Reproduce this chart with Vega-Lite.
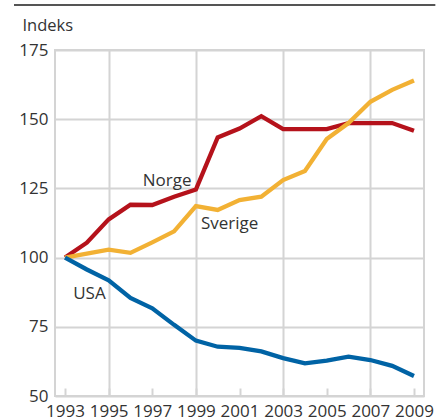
{
  "$schema": "https://vega.github.io/schema/vega-lite/v6.json",
  "autosize": "none",
  "width": 369,
  "height": 346,
  "padding": {"left": 55, "top": 50, "right": 12, "bottom": 24},
  "background": "white",
  "config": {
    "view": {"stroke": "#d4d4d4", "strokeWidth": 2},
    "font": "Open Sans"
  },
  "datasets": {
    "series": [
      {"year": 1993, "land": "Norge", "indeks": 100},
      {"year": 1994, "land": "Norge", "indeks": 105.4},
      {"year": 1995, "land": "Norge", "indeks": 113.8},
      {"year": 1996, "land": "Norge", "indeks": 119.1},
      {"year": 1997, "land": "Norge", "indeks": 119},
      {"year": 1998, "land": "Norge", "indeks": 122},
      {"year": 1999, "land": "Norge", "indeks": 124.6},
      {"year": 2000, "land": "Norge", "indeks": 143.4},
      {"year": 2001, "land": "Norge", "indeks": 146.6},
      {"year": 2002, "land": "Norge", "indeks": 151.1},
      {"year": 2003, "land": "Norge", "indeks": 146.4},
      {"year": 2004, "land": "Norge", "indeks": 146.4},
      {"year": 2005, "land": "Norge", "indeks": 146.4},
      {"year": 2006, "land": "Norge", "indeks": 148.6},
      {"year": 2007, "land": "Norge", "indeks": 148.6},
      {"year": 2008, "land": "Norge", "indeks": 148.6},
      {"year": 2009, "land": "Norge", "indeks": 145.8},
      {"year": 1993, "land": "Sverige", "indeks": 100},
      {"year": 1994, "land": "Sverige", "indeks": 101.4},
      {"year": 1995, "land": "Sverige", "indeks": 102.9},
      {"year": 1996, "land": "Sverige", "indeks": 101.7},
      {"year": 1997, "land": "Sverige", "indeks": 105.5},
      {"year": 1998, "land": "Sverige", "indeks": 109.5},
      {"year": 1999, "land": "Sverige", "indeks": 118.6},
      {"year": 2000, "land": "Sverige", "indeks": 117.2},
      {"year": 2001, "land": "Sverige", "indeks": 120.8},
      {"year": 2002, "land": "Sverige", "indeks": 122},
      {"year": 2003, "land": "Sverige", "indeks": 128},
      {"year": 2004, "land": "Sverige", "indeks": 131.3},
      {"year": 2005, "land": "Sverige", "indeks": 142.8},
      {"year": 2006, "land": "Sverige", "indeks": 148.6},
      {"year": 2007, "land": "Sverige", "indeks": 156.3},
      {"year": 2008, "land": "Sverige", "indeks": 160.6},
      {"year": 2009, "land": "Sverige", "indeks": 164},
      {"year": 1993, "land": "USA", "indeks": 100},
      {"year": 1994, "land": "USA", "indeks": 95.7},
      {"year": 1995, "land": "USA", "indeks": 91.8},
      {"year": 1996, "land": "USA", "indeks": 85.4},
      {"year": 1997, "land": "USA", "indeks": 81.7},
      {"year": 1998, "land": "USA", "indeks": 75.7},
      {"year": 1999, "land": "USA", "indeks": 70},
      {"year": 2000, "land": "USA", "indeks": 67.8},
      {"year": 2001, "land": "USA", "indeks": 67.4},
      {"year": 2002, "land": "USA", "indeks": 66.1},
      {"year": 2003, "land": "USA", "indeks": 63.7},
      {"year": 2004, "land": "USA", "indeks": 61.8},
      {"year": 2005, "land": "USA", "indeks": 62.8},
      {"year": 2006, "land": "USA", "indeks": 64.2},
      {"year": 2007, "land": "USA", "indeks": 63},
      {"year": 2008, "land": "USA", "indeks": 60.9},
      {"year": 2009, "land": "USA", "indeks": 57.2}
    ],
    "labels": [
      {"year": 1997.68, "indeks": 127.5, "land": "Norge"},
      {"year": 2000.55, "indeks": 112.3, "land": "Sverige"},
      {"year": 1994.12, "indeks": 87, "land": "USA"}
    ]
  },
  "layer": [
    {
      "data": {"name": "series"},
      "mark": {"type": "line", "strokeWidth": 4.3, "strokeJoin": "miter", "strokeCap": "butt"},
      "encoding": {
        "x": {
          "field": "year", "type": "quantitative",
          "scale": {"domain": [1992.54, 2009.46], "nice": false, "zero": false},
          "axis": {
            "title": null,
            "values": [1993, 1994, 1995, 1996, 1997, 1998, 1999, 2000, 2001, 2002, 2003, 2004, 2005, 2006, 2007, 2008, 2009],
            "labelExpr": "datum.value % 2 == 1 ? datum.label : ''",
            "format": "d",
            "domain": false,
            "ticks": true,
            "tickSize": -8,
            "tickColor": "#d4d4d4",
            "tickWidth": 2,
            "labelPadding": 15,
            "labelFontSize": 17,
            "labelColor": "#333333",
            "labelFlush": false,
            "labelOverlap": false,
            "grid": true,
            "gridColor": "#d4d4d4",
            "gridWidth": 2,
            "gridOpacity": {"condition": {"test": "(datum.value - 1995) % 4 == 0", "value": 1}, "value": 0}
          }
        },
        "y": {
          "field": "indeks", "type": "quantitative",
          "scale": {"domain": [50, 175], "nice": false, "zero": false},
          "axis": {
            "values": [50, 75, 100, 125, 150, 175],
            "title": "Indeks",
            "titleAngle": 0,
            "titleAlign": "left",
            "titleBaseline": "alphabetic",
            "titleX": -33,
            "titleY": -20,
            "titleFontSize": 16.5,
            "titleFontWeight": "normal",
            "titleColor": "#333333",
            "domain": false,
            "ticks": false,
            "labelPadding": 7,
            "labelFontSize": 17,
            "labelColor": "#333333",
            "grid": true,
            "gridColor": "#d4d4d4",
            "gridWidth": 2
          }
        },
        "color": {
          "field": "land", "type": "nominal",
          "scale": {"domain": ["Norge", "Sverige", "USA"], "range": ["#b5121b", "#f2b134", "#0063a5"]},
          "legend": null
        }
      }
    },
    {
      "data": {"name": "labels"},
      "mark": {"type": "text", "fontSize": 17, "color": "#333333", "align": "center", "baseline": "middle"},
      "encoding": {
        "x": {"field": "year", "type": "quantitative"},
        "y": {"field": "indeks", "type": "quantitative"},
        "text": {"field": "land"}
      }
    },
    {
      "data": {"values": [{}]},
      "mark": {"type": "rule", "color": "#555555", "strokeWidth": 2, "clip": false},
      "encoding": {
        "x": {"datum": 1990.66},
        "x2": {"datum": 2009.98},
        "y": {"datum": 191.3}
      }
    }
  ]
}
